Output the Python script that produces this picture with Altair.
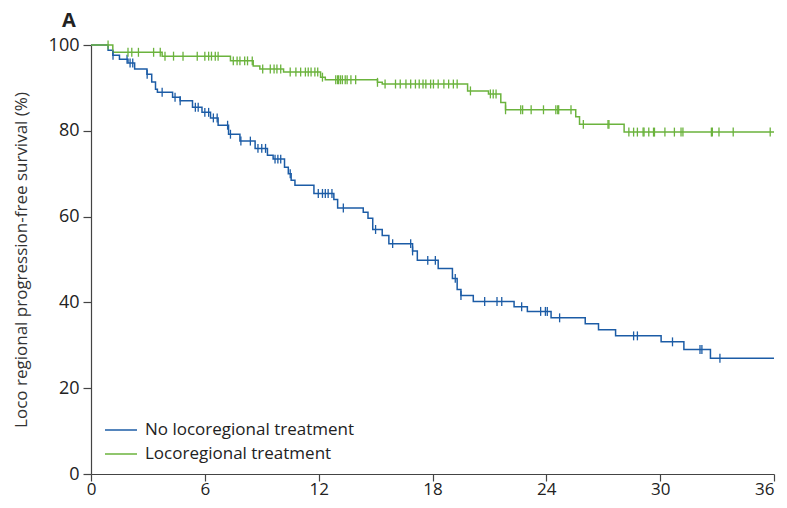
import altair as alt
import pandas as pd

# ---- data (time in months, survival in %) ----
no_lrt_t = [0, 0.9, 1.15, 1.5, 1.95, 2.3, 2.95, 3.2, 3.4, 3.5, 4.3, 4.7, 5.35, 5.85, 6.3, 6.7,
            7.25, 7.85, 8.65, 9.3, 9.6, 10.2, 10.4, 10.55, 10.75, 11.75, 12.8, 13.0, 14.35, 14.6,
            14.85, 15.35, 15.7, 16.95, 17.2, 18.3, 19.05, 19.3, 19.5, 20.15, 22.3, 23.0, 24.25,
            26.05, 26.75, 27.65, 30.05, 31.25, 32.65]
no_lrt_s = [100, 98.8, 97.6, 96.7, 95.8, 94.4, 93.2, 91.4, 89.7, 89.0, 87.8, 87.0, 85.5, 84.3, 83.0, 81.3,
            79.2, 77.6, 75.9, 74.3, 73.4, 71.5, 70.0, 68.5, 67.3, 65.4, 64.0, 62.0, 61.0, 59.6,
            57.0, 55.6, 53.7, 52.0, 49.8, 47.9, 45.6, 43.0, 41.6, 40.2, 39.0, 37.9, 36.4,
            35.0, 33.6, 32.2, 30.8, 29.0, 27.0]
no_lrt_cens = [1.16, 1.9, 2.06, 2.2, 2.96, 3.75, 4.43, 4.7, 5.5, 5.65, 6.0, 6.2, 6.45, 6.65, 7.2, 7.35,
               7.9, 8.4, 8.8, 9.0, 9.2, 9.7, 9.85, 10.0, 10.5, 11.98, 12.2, 12.35, 12.5, 12.7, 13.3,
               15.0, 15.9, 16.85, 16.95, 17.75, 18.15, 19.2, 19.5, 20.75, 21.4, 21.65, 22.7, 23.7,
               23.95, 24.05, 24.7, 28.6, 28.8, 30.65, 32.1, 32.2, 33.15]

lrt_t = [0, 1.15, 3.75, 7.35, 8.55, 8.9, 10.15, 12.1, 12.35, 15.1, 15.35, 19.85, 20.95, 21.6, 21.85,
         25.55, 25.75, 28.1]
lrt_s = [100, 98.3, 97.4, 96.3, 95.1, 94.4, 93.7, 92.5, 91.9, 91.3, 90.9, 89.3, 88.6, 86.6, 84.9,
         83.3, 81.5, 79.7]
lrt_cens = [0.9, 1.95, 2.15, 2.5, 3.3, 3.65, 3.9, 4.35, 4.85, 5.6, 6.0, 6.2, 6.35, 6.55, 6.7, 7.5, 7.7,
            7.85, 8.1, 8.25, 8.5, 9.05, 9.45, 9.65, 9.8, 10.0, 10.5, 10.8, 11.05, 11.3, 11.45, 11.6,
            11.8, 11.95, 12.2, 12.9, 13.0, 13.05, 13.15, 13.25, 13.4, 13.5, 13.7, 13.95, 15.1, 15.5,
            16.05, 16.3, 16.6, 16.85, 17.1, 17.3, 17.5, 17.65, 17.9, 18.05, 18.3, 18.6, 18.85, 19.1,
            19.3, 20.0, 21.05, 21.2, 21.35, 21.85, 22.65, 22.75, 23.2, 23.85, 24.5, 24.6, 24.65,
            25.3, 25.95, 27.25, 27.3, 28.35, 28.6, 28.8, 29.1, 29.15, 29.4, 29.65, 29.7, 30.25,
            30.75, 31.1, 31.2, 32.7, 32.75, 33.1, 33.85, 35.8]

groups = ["No locoregional treatment", "Locoregional treatment"]
colors = ["#1c5ca6", "#6bb33d"]
x_ticks = [0, 6, 12, 18, 24, 30, 36]
y_ticks = [0, 20, 40, 60, 80, 100]
t_end = 36


def step_value(ts, ss, t):
    v = ss[0]
    for ti, si in zip(ts, ss):
        if ti <= t:
            v = si
    return v


line_rows, cens_rows = [], []
for g, ts, ss, cs in [(groups[0], no_lrt_t, no_lrt_s, no_lrt_cens),
                      (groups[1], lrt_t, lrt_s, lrt_cens)]:
    for ti, si in zip(ts, ss):
        line_rows.append({"group": g, "t": ti, "s": si})
    line_rows.append({"group": g, "t": t_end, "s": ss[-1]})
    for c in cs:
        cens_rows.append({"group": g, "t": c, "s": step_value(ts, ss, c)})

lines_df = pd.DataFrame(line_rows)
cens_df = pd.DataFrame(cens_rows)

FONT = "Open Sans"
W, H = 683, 429

color_scale = alt.Scale(domain=groups, range=colors)

x_enc = alt.X("t:Q", scale=alt.Scale(domain=[0, 36], nice=False),
              axis=alt.Axis(values=x_ticks, title=None, grid=False, tickSize=7,
                            labelFontSize=17, labelPadding=0, labelFlush=False,
                            labelAlign={"condition": {"test": "datum.value == 36", "value": "right"},
                                        "value": "center"}))
y_enc = alt.Y("s:Q", scale=alt.Scale(domain=[0, 100], nice=False),
              axis=alt.Axis(values=y_ticks, title="Loco regional progression-free survival (%)",
                            grid=False, tickSize=8, labelFontSize=18, labelPadding=4,
                            titleFontSize=17, titleFontWeight="normal", titleX=-70, titleY=H / 2,
                            titleAlign="center", titleBaseline="middle", titleAngle=270))

line = alt.Chart(lines_df).mark_line(interpolate="step-after", strokeWidth=1.5).encode(
    x=x_enc, y=y_enc, color=alt.Color("group:N", scale=color_scale, legend=None),
    detail="group:N")

cens = alt.Chart(cens_df).mark_point(shape="M0,-1L0,1", size=80, filled=False,
                                     strokeWidth=1.3, opacity=1).encode(
    x="t:Q", y="s:Q",
    color=alt.Color("group:N", scale=color_scale, legend=None))

# manual legend (inside the plot, lower left)
legend_layers = []
for i, g in enumerate(groups):
    ldf = pd.DataFrame({"label": [g]})
    yy = 385 + 24 * i
    legend_layers.append(
        alt.Chart(ldf).mark_rule(color=colors[i], strokeWidth=1.5).encode(
            x=alt.value(14), x2=alt.value(46), y=alt.value(yy)))
    legend_layers.append(
        alt.Chart(ldf).mark_text(align="left", baseline="middle", fontSize=17, font=FONT,
                                 color="#222").encode(
            x=alt.value(54), y=alt.value(yy), text="label:N"))

chart = alt.layer(line, cens, *legend_layers).properties(
    width=W, height=H,
    autosize=alt.AutoSizeParams(type="none"),
    padding={"left": 83, "top": 37, "right": 5, "bottom": 27},
    title=alt.TitleParams("A", anchor="start", frame="group", dx=-29, offset=5,
                          fontSize=20, fontWeight="bold", font=FONT, color="#222"),
).configure_axis(
    domainColor="#444", tickColor="#444", labelColor="#222", titleColor="#333",
    labelFont=FONT, titleFont=FONT, domainWidth=1.2, tickWidth=1.2
).configure_view(stroke=None)

chart.save("out.html", embed_options={"renderer": "svg", "actions": False})
